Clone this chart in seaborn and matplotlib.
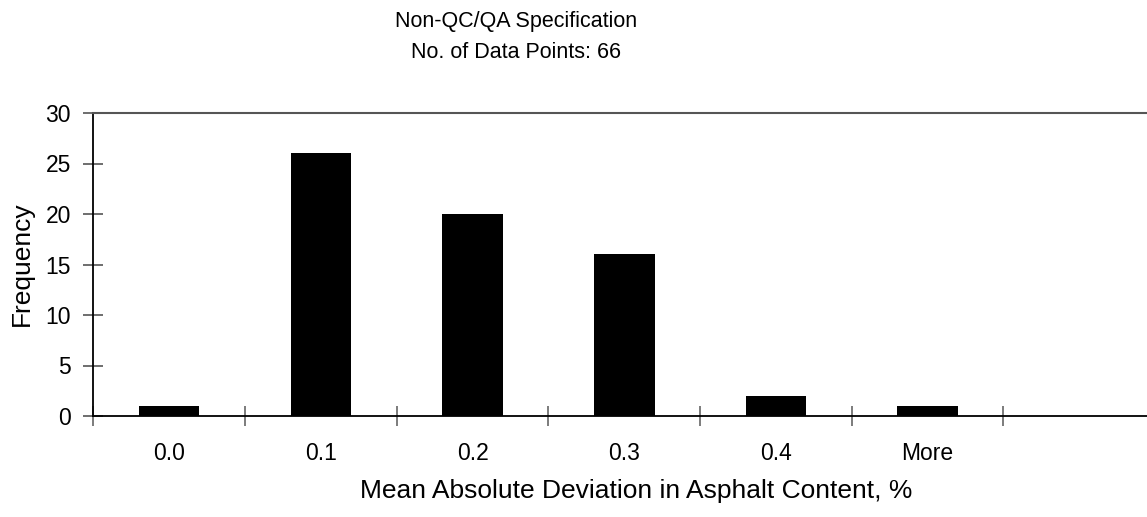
import matplotlib
matplotlib.use("Agg")
import matplotlib.pyplot as plt
import seaborn as sns
import pandas as pd

categories = ["0.0", "0.1", "0.2", "0.3", "0.4", "More", ""]
frequency = [1, 26, 20, 16, 2, 1, 0]
yticks = [0, 5, 10, 15, 20, 25, 30]
title_lines = ["Non-QC/QA Specification", "No. of Data Points: 66"]
xlabel = "Mean Absolute Deviation in Asphalt Content, %"
ylabel = "Frequency"

sns.set_theme(style="white")
plt.rcParams["font.family"] = ["Liberation Sans", "DejaVu Sans"]
plt.rcParams["text.color"] = "black"
plt.rcParams["xtick.color"] = "black"
plt.rcParams["ytick.color"] = "black"

df = pd.DataFrame({"cat": categories, "freq": frequency})

fig = plt.figure(figsize=(11.47, 5.17), dpi=100)
x0 = 93.3 / 1147
y0 = 1 - 416 / 517
y1 = 1 - 113 / 517
ax = fig.add_axes([x0, y0, 1.0 - x0, y1 - y0])

sns.barplot(data=df, x="cat", y="freq", order=categories, color="black",
            width=0.40, saturation=1, ax=ax, edgecolor="black", linewidth=0)

ax.set_yticks(yticks)
ax.set_yticklabels([str(v) for v in yticks], fontsize=16.5, color="black")
ax.set_xticks(range(len(categories)))
ax.set_xticklabels(categories, fontsize=16.5, color="black")
ax.tick_params(axis="x", which="major", bottom=True, length=0, pad=19)
ax.tick_params(axis="y", left=True, direction="inout", length=14, width=1.2,
               color="#555555", pad=9)
# category boundary ticks
ax.set_xticks([i + 0.5 for i in range(-1, 6)], minor=True)
ax.tick_params(axis="x", which="minor", bottom=True, direction="inout",
               length=14, width=1.2, color="#666666")
cat_w = 151.7
ax.set_xlim(-0.5, -0.5 + (1147 - 93.3) / cat_w)
ax.set_ylim(0, 30)
ax.set_xlabel("")
ax.set_ylabel("")

for s in ["left", "bottom"]:
    ax.spines[s].set_color("black")
    ax.spines[s].set_linewidth(1.3)
ax.spines["top"].set_color("#555555")
ax.spines["top"].set_linewidth(1.5)
ax.spines["right"].set_visible(False)
ax.grid(False)

fig.text(516 / 1147, 1 - 21 / 517, title_lines[0], ha="center", va="center",
         fontsize=15.5)
fig.text(516 / 1147, 1 - 53 / 517, title_lines[1], ha="center", va="center",
         fontsize=15.5)
fig.text(636 / 1147, 1 - 491 / 517, xlabel, ha="center", va="center",
         fontsize=19)
fig.text(22 / 1147, 1 - 264 / 517, ylabel, ha="center", va="center",
         rotation=90, fontsize=19)

fig.savefig("out.png", dpi=100, facecolor="white")
